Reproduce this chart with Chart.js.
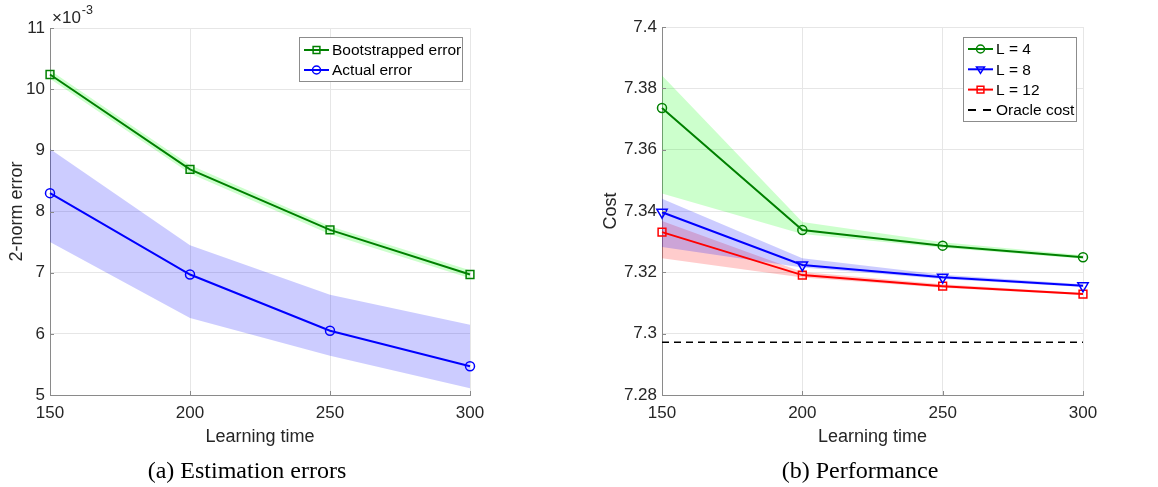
<!DOCTYPE html>
<html>
<head>
<meta charset="utf-8">
<script src="https://cdn.jsdelivr.net/npm/chart.js@4.4.1/dist/chart.umd.min.js"></script>
<style>
  body { margin: 0; background: #fff; width: 1158px; height: 487px; position: relative; overflow: hidden; }
  .panel { position: absolute; top: 0; }
  .panel canvas { display: block; }
  .caption { position: absolute; top: 458px; font: 24px "Liberation Serif", "Times New Roman", serif; line-height: 24px;
             color: #000; white-space: nowrap; transform: translateX(-50%); }
</style>
</head>
<body>
<div class="panel" style="left:0"><canvas id="errChart" width="580" height="487"></canvas></div>
<div class="panel" style="left:580px"><canvas id="costChart" width="578" height="487"></canvas></div>
<div class="caption" style="left:247px">(a) Estimation errors</div>
<div class="caption" style="left:860px">(b) Performance</div>
<script>
// learning times (x axis)
const times = [150, 200, 250, 300];
const xTicks = [150, 200, 250, 300];

// (a) 2-norm errors, in units of 1e-3
const bootErr = [10.24, 8.69, 7.70, 6.97];
const bootLo  = [10.17, 8.62, 7.63, 6.91];
const bootHi  = [10.31, 8.76, 7.76, 7.04];
const actErr  = [8.30, 6.97, 6.05, 5.47];
const actLo   = [7.50, 6.26, 5.64, 5.11];
const actHi   = [9.02, 7.45, 6.64, 6.15];
const errTicks = [5, 6, 7, 8, 9, 10, 11];

// (b) cost
const costL4   = [7.3736, 7.3338, 7.3287, 7.3249];
const costL4Lo = [7.3457, 7.3325, 7.3280, 7.3244];
const costL4Hi = [7.3842, 7.3364, 7.3298, 7.3256];
const costL8   = [7.3396, 7.3224, 7.3184, 7.3156];
const costL8Lo = [7.3283, 7.3216, 7.3178, 7.3152];
const costL8Hi = [7.3440, 7.3246, 7.3192, 7.3161];
const costL12   = [7.3331, 7.3191, 7.3155, 7.3129];
const costL12Lo = [7.3246, 7.3183, 7.3150, 7.3126];
const costL12Hi = [7.3367, 7.3201, 7.3161, 7.3133];
const oracleCost = [7.2972, 7.2972, 7.2972, 7.2972];
const costTicks = [7.28, 7.30, 7.32, 7.34, 7.36, 7.38, 7.40];

Chart.defaults.font.family = '"Liberation Sans", Arial, sans-serif';
Chart.defaults.color = '#262626';

const pts = ys => ys.map((y, i) => ({ x: times[i], y: y }));

function lineSet(label, ys, color, marker, extra) {
  return Object.assign({
    label: label,
    data: pts(ys),
    borderColor: color,
    borderWidth: 2,
    pointStyle: marker,
    pointRadius: 4.5,
    pointBorderWidth: 1.5,
    pointBorderColor: color,
    pointBackgroundColor: 'rgba(0,0,0,0)',
    tension: 0,
    clip: false
  }, extra || {});
}

// upper edge of a band, filled down to the next dataset (its lower edge)
function bandSets(lo, hi, fillColor) {
  return [
    { data: pts(hi), borderWidth: 0, pointRadius: 0, backgroundColor: fillColor, fill: '+1', tension: 0 },
    { data: pts(lo), borderWidth: 0, pointRadius: 0, fill: false, tension: 0 }
  ];
}

function makeScales(yMin, yMax, yTicks, yTitle, yWidth, yTitlePad) {
  return {
    x: {
      type: 'linear', min: 150, max: 300,
      afterBuildTicks: s => { s.ticks = xTicks.map(v => ({ value: v })); },
      afterFit: s => { s.height = 55; },
      grid: { color: '#e6e6e6', drawTicks: false },
      border: { color: '#8a8a8a' },
      ticks: { padding: 8, font: { size: 17 }, maxRotation: 0, autoSkip: false },
      title: { display: true, text: 'Learning time', font: { size: 18 }, padding: { top: 0, bottom: 2 }, color: '#262626' }
    },
    y: {
      type: 'linear', min: yMin, max: yMax,
      afterBuildTicks: s => { s.ticks = yTicks.map(v => ({ value: v })); },
      afterFit: s => { s.width = yWidth; },
      grid: { color: '#e6e6e6', drawTicks: false },
      border: { color: '#8a8a8a' },
      ticks: { padding: 5, font: { size: 17 }, callback: v => String(+v.toFixed(2)) },
      title: { display: true, text: yTitle, font: { size: 18 }, padding: { top: yTitlePad, bottom: 0 }, color: '#262626' }
    }
  };
}

function drawMarker(ctx, style, x, y, r) {
  ctx.beginPath();
  if (style === 'circle') {
    ctx.arc(x, y, r, 0, Math.PI * 2);
  } else if (style === 'rect') {
    const h = r * Math.SQRT1_2;
    ctx.rect(x - h, y - h, 2 * h, 2 * h);
  } else if (style === 'triangle') {
    ctx.moveTo(x - r, y - r * 0.6);
    ctx.lineTo(x + r, y - r * 0.6);
    ctx.lineTo(x, y + r);
    ctx.closePath();
  }
  ctx.stroke();
}

// MATLAB-like boxed legend inside the axes
function boxLegend(box) {
  return {
    id: 'boxLegend',
    afterDraw(chart) {
      const ctx = chart.ctx;
      const items = chart.data.datasets.filter(d => d.label);
      ctx.save();
      ctx.fillStyle = '#fff';
      ctx.fillRect(box.x, box.y, box.w, box.h);
      ctx.strokeStyle = '#8c8c8c';
      ctx.lineWidth = 1;
      ctx.strokeRect(box.x + 0.5, box.y + 0.5, box.w, box.h);
      items.forEach((d, i) => {
        const y = box.y + box.first + i * box.step;
        ctx.strokeStyle = d.borderColor;
        ctx.lineWidth = 2;
        ctx.beginPath();
        if (d.borderDash) {
          // two short dashes, as in the MATLAB legend
          ctx.moveTo(box.x + 5, y); ctx.lineTo(box.x + 13, y);
          ctx.moveTo(box.x + 20, y); ctx.lineTo(box.x + 28, y);
        } else {
          ctx.moveTo(box.x + 5, y);
          ctx.lineTo(box.x + 30, y);
        }
        ctx.stroke();
        if (d.pointRadius) {
          ctx.lineWidth = 1.5;
          drawMarker(ctx, d.pointStyle, box.x + 17.5, y, d.pointStyle === 'rect' ? 4.8 : 4);
        }
        ctx.fillStyle = '#000';
        ctx.font = '15.5px "Liberation Sans", Arial, sans-serif';
        ctx.textBaseline = 'middle';
        ctx.fillText(d.label, box.x + 33, y + 1);
      });
      ctx.restore();
    }
  };
}

// short inward tick marks, MATLAB style
const innerTicks = {
  id: 'innerTicks',
  afterDatasetsDraw(chart) {
    const { ctx, chartArea: a, scales } = chart;
    ctx.save();
    ctx.strokeStyle = '#8a8a8a';
    ctx.lineWidth = 1;
    ctx.beginPath();
    scales.x.ticks.forEach(t => {
      const px = Math.round(scales.x.getPixelForValue(t.value)) + 0.5;
      ctx.moveTo(px, a.bottom);
      ctx.lineTo(px, a.bottom - 4);
    });
    scales.y.ticks.forEach(t => {
      const py = Math.round(scales.y.getPixelForValue(t.value)) + 0.5;
      ctx.moveTo(a.left, py);
      ctx.lineTo(a.left + 4, py);
    });
    ctx.stroke();
    ctx.restore();
  }
};

const expNote = {
  id: 'expNote',
  afterDraw(chart) {
    const ctx = chart.ctx;
    ctx.save();
    ctx.fillStyle = '#262626';
    ctx.textBaseline = 'alphabetic';
    ctx.font = '17px "Liberation Sans", Arial, sans-serif';
    ctx.fillText('\u00d710', 52, 23);
    const w = ctx.measureText('\u00d710').width;
    ctx.font = '12.5px "Liberation Sans", Arial, sans-serif';
    ctx.fillText('-3', 52 + w + 1, 14);
    ctx.restore();
  }
};

const green = 'rgb(0,128,0)';
const blue = 'rgb(0,0,255)';
const red = 'rgb(255,0,0)';

new Chart(document.getElementById('errChart'), {
  type: 'line',
  data: {
    datasets: [
      lineSet('Bootstrapped error', bootErr, green, 'rect', { pointRadius: 5.5 }),
      lineSet('Actual error', actErr, blue, 'circle'),
      ...bandSets(bootLo, bootHi, 'rgba(0,255,0,0.2)'),
      ...bandSets(actLo, actHi, 'rgba(0,0,255,0.2)')
    ]
  },
  options: {
    responsive: false,
    animation: false,
    layout: { padding: { left: 0, top: 28, right: 110, bottom: 37 } },
    plugins: { legend: { display: false }, tooltip: { enabled: false } },
    scales: makeScales(5, 11, errTicks, '2-norm error', 50, 6)
  },
  plugins: [innerTicks, boxLegend({ x: 299, y: 37, w: 163, h: 44, first: 13, step: 20 }), expNote]
});

new Chart(document.getElementById('costChart'), {
  type: 'line',
  data: {
    datasets: [
      lineSet('L = 4', costL4, green, 'circle'),
      lineSet('L = 8', costL8, blue, 'triangle', { pointRotation: 180, pointRadius: 6 }),
      lineSet('L = 12', costL12, red, 'rect', { pointRadius: 5.5 }),
      lineSet('Oracle cost', oracleCost, '#000', 'circle', { pointRadius: 0, borderWidth: 1.5, borderDash: [7, 5] }),
      ...bandSets(costL4Lo, costL4Hi, 'rgba(0,255,0,0.2)'),
      ...bandSets(costL8Lo, costL8Hi, 'rgba(0,0,255,0.2)'),
      ...bandSets(costL12Lo, costL12Hi, 'rgba(255,0,0,0.2)')
    ]
  },
  options: {
    responsive: false,
    animation: false,
    layout: { padding: { left: 0, top: 27, right: 75, bottom: 37 } },
    plugins: { legend: { display: false }, tooltip: { enabled: false } },
    scales: makeScales(7.28, 7.40, costTicks, 'Cost', 82, 20)
  },
  plugins: [innerTicks, boxLegend({ x: 383, y: 37, w: 113, h: 84, first: 12, step: 20.3 })]
});
</script>
</body>
</html>
